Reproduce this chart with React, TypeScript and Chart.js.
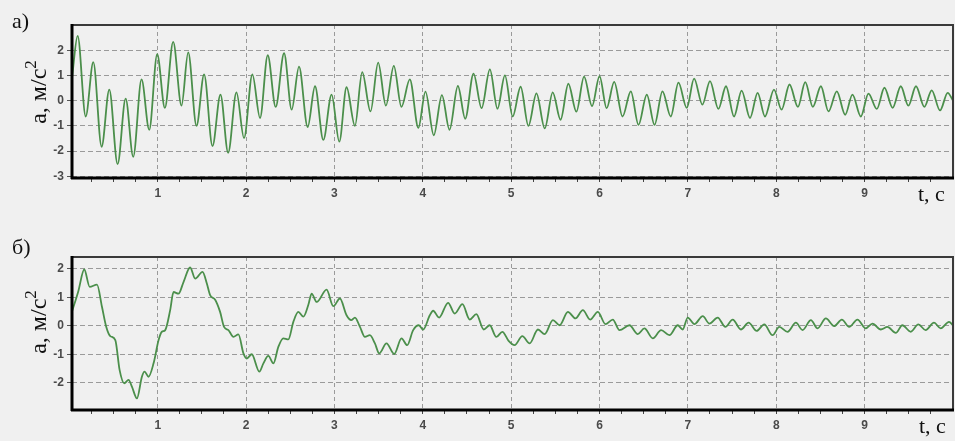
import React, { useEffect, useRef } from "react";
import { Chart, registerables } from "chart.js";

Chart.register(...registerables);

// ---- data ----
const topTimes = [
  0.03, 0.094, 0.185, 0.271, 0.365, 0.452, 0.546, 0.637, 0.723, 0.817, 0.904,
  0.994, 1.081, 1.175, 1.269, 1.345, 1.439, 1.525, 1.62, 1.71, 1.797, 1.891, 1.977,
  2.071, 2.158, 2.245, 2.335, 2.43, 2.516, 2.599, 2.697, 2.78, 2.874, 2.968,
  3.055, 3.137, 3.232, 3.314, 3.408, 3.495, 3.582, 3.672, 3.758, 3.853, 3.95,
  4.03, 4.124, 4.216, 4.302, 4.397, 4.48, 4.574, 4.665, 4.759, 4.845, 4.929,
  5.017, 5.107, 5.195, 5.286, 5.38, 5.47, 5.559, 5.647, 5.738, 5.825, 5.915, 6.0,
  6.08, 6.166, 6.26, 6.354, 6.441, 6.535, 6.622, 6.712, 6.806, 6.893, 6.987,
  7.07, 7.164, 7.25, 7.345, 7.431, 7.522, 7.608, 7.703, 7.789, 7.872, 7.974,
  8.06, 8.15, 8.245, 8.328, 8.414, 8.505, 8.591, 8.685, 8.78, 8.862, 8.957,
  9.043, 9.138, 9.224, 9.317, 9.409, 9.495, 9.581, 9.676, 9.759, 9.853, 9.94, 10.0,
];
const topValues = [
  0.9, 2.57, -0.63, 1.53, -1.83, 0.44, -2.52, 0.08, -2.23, 0.84, -1.16,
  1.84, -0.29, 2.33, -0.2, 1.91, -1.0, 1.04, -1.8, 0.24, -2.07, 0.33, -1.49,
  1.04, -0.69, 1.8, -0.25, 1.88, -0.36, 1.35, -1.05, 0.57, -1.56, 0.24,
  -1.63, 0.53, -1.0, 1.13, -0.43, 1.51, -0.2, 1.38, -0.25, 0.84, -1.08,
  0.36, -1.38, 0.22, -1.16, 0.58, -0.72, 1.07, -0.3, 1.24, -0.32, 1.0,
  -0.63, 0.55, -1.0, 0.29, -1.1, 0.33, -0.76, 0.67, -0.44, 0.95, -0.22, 0.97,
  -0.3, 0.74, -0.63, 0.37, -0.96, 0.24, -0.96, 0.37, -0.63, 0.71, -0.29,
  0.87, -0.16, 0.77, -0.33, 0.57, -0.63, 0.4, -0.69, 0.31, -0.63, 0.44,
  -0.36, 0.64, -0.25, 0.73, -0.25, 0.57, -0.43, 0.37, -0.56, 0.24, -0.63,
  0.28, -0.33, 0.51, -0.29, 0.57, -0.2, 0.57, -0.25, 0.41, -0.39, 0.31, 0.0,
];

const bottomTimes = [
  0.03, 0.1, 0.169, 0.23, 0.313, 0.369, 0.418, 0.463, 0.52, 0.569, 0.621, 0.67, 0.708, 0.765, 0.821, 0.851, 0.896, 0.953,
  1.01, 1.047, 1.085, 1.141, 1.179, 1.235, 1.292, 1.367, 1.424, 1.507, 1.556, 1.593, 1.65, 1.706, 1.751, 1.8, 1.857, 1.913, 1.97,
  2.008, 2.064, 2.15, 2.196, 2.252, 2.309, 2.365, 2.421, 2.478, 2.535, 2.591, 2.648, 2.704, 2.742, 2.799, 2.911, 2.987,
  3.062, 3.137, 3.19, 3.232, 3.289, 3.345, 3.401, 3.458, 3.507, 3.589, 3.676, 3.759, 3.823, 3.891, 3.955, 4.004,
  4.079, 4.117, 4.184, 4.286, 4.361, 4.448, 4.531, 4.606, 4.689, 4.757, 4.832, 4.9, 4.971, 5.039,
  5.126, 5.209, 5.303, 5.379, 5.472, 5.548, 5.642, 5.728, 5.811, 5.894, 5.981, 6.067, 6.15, 6.226,
  6.339, 6.433, 6.508, 6.603, 6.697, 6.791, 6.885, 6.941, 6.998, 7.073, 7.168, 7.243, 7.337, 7.424, 7.507, 7.6,
  7.687, 7.778, 7.864, 7.958, 8.034, 8.128, 8.222, 8.297, 8.392, 8.467, 8.561, 8.655, 8.742, 8.825,
  8.919, 9.013, 9.089, 9.183, 9.258, 9.352, 9.427, 9.522, 9.608, 9.69, 9.785, 9.86, 9.955, 10.0,
];
const bottomValues = [
  0.5, 1.2, 1.98, 1.37, 1.45, 0.67, -0.04, -0.36, -0.5, -1.56, -2.02, -1.9, -2.14, -2.55, -1.79, -1.61, -1.79, -1.32,
  -0.5, -0.21, -0.15, 0.55, 1.19, 1.13, 1.54, 2.05, 1.66, 1.9, 1.49, 1.08, 0.92, 0.49, -0.04, -0.15, -0.39, -0.3, -0.97,
  -1.15, -1.0, -1.61, -1.32, -1.06, -1.32, -0.74, -0.44, -0.48, 0.14, 0.49, 0.32, 0.73, 1.13, 0.84, 1.27, 0.69,
  0.96, 0.37, 0.2, 0.29, -0.04, -0.39, -0.33, -0.62, -0.97, -0.62, -0.99, -0.44, -0.68, -0.15, 0.02, -0.13,
  0.37, 0.53, 0.29, 0.81, 0.43, 0.76, 0.22, 0.41, -0.13, 0.02, -0.39, -0.21, -0.53, -0.68,
  -0.36, -0.62, -0.13, -0.29, 0.2, 0.02, 0.49, 0.26, 0.55, 0.22, 0.49, 0.06, 0.22, -0.15,
  0.02, -0.29, -0.09, -0.44, -0.15, -0.33, 0.02, -0.13, 0.29, 0.06, 0.34, 0.08, 0.29, -0.04, 0.22, -0.13,
  0.11, -0.18, 0.05, -0.33, -0.04, -0.21, 0.11, -0.15, 0.2, -0.09, 0.26, -0.01, 0.22, -0.04,
  0.22, -0.09, 0.08, -0.13, -0.04, -0.25, 0.02, -0.21, 0.05, -0.15, 0.11, -0.09, 0.14, 0.02,
];

const xTickLabels = [1, 2, 3, 4, 5, 6, 7, 8, 9];
const xMinorStep = 0.25;
const topYTicks = [-3, -2, -1, 0, 1, 2];
const bottomYTicks = [-2, -1, 0, 1, 2];

const LINE_COLOR = "#4b8f4b";
const GRID_COLOR = "#9a9a9a";
const BG = "#f0f0f0";

const near = (a: number, b: number) => Math.abs(a - b) < 1e-6;

const framePlugin = {
  id: "frame",
  afterDatasetsDraw(chart: any) {
    const { ctx, chartArea: a } = chart;
    ctx.save();
    const line = (x1: number, y1: number, x2: number, y2: number) => {
      ctx.beginPath();
      ctx.moveTo(x1, y1);
      ctx.lineTo(x2, y2);
      ctx.stroke();
    };
    ctx.strokeStyle = "#3a3a3a";
    ctx.lineWidth = 2;
    line(a.left, a.top, a.right + 1, a.top);
    line(a.right, a.top, a.right, a.bottom);
    ctx.strokeStyle = "#000";
    ctx.lineWidth = 3;
    line(a.left - 1, a.bottom, a.right + 1, a.bottom);
    line(a.left, a.top - 1, a.left, a.bottom + 1);
    ctx.restore();
  },
};

type PanelProps = {
  times: number[];
  values: number[];
  yMin: number;
  yMax: number;
  yTicks: number[];
  top: number;
  height: number;
  padTop: number;
  xAxisHeight: number;
};

function Panel({ times, values, yMin, yMax, yTicks, top, height, padTop, xAxisHeight }: PanelProps) {
  const ref = useRef<HTMLCanvasElement | null>(null);
  useEffect(() => {
    if (!ref.current) return;
    const data = times.map((t, i) => ({ x: t, y: values[i] }));
    const tickFont = { family: '"Liberation Sans", Arial, sans-serif', size: 12, weight: "bold" as const };
    const chart = new Chart(ref.current, {
      type: "line",
      data: {
        datasets: [
          {
            data,
            borderColor: LINE_COLOR,
            borderWidth: 1.8,
            pointRadius: 0,
            fill: false,
            cubicInterpolationMode: "monotone",
          },
        ],
      },
      options: {
        responsive: false,
        animation: false,
        events: [],
        layout: { padding: { left: 0, right: 2, top: padTop, bottom: 0 } },
        plugins: { legend: { display: false }, tooltip: { enabled: false }, title: { display: false } },
        scales: {
          x: {
            type: "linear",
            min: 0.03,
            max: 10,
            afterFit: (scale: any) => {
              scale.height = xAxisHeight;
            },
            afterBuildTicks: (scale: any) => {
              const ticks: { value: number }[] = [];
              for (let k = 1; k * xMinorStep < 10; k++) ticks.push({ value: k * xMinorStep });
              scale.ticks = ticks;
            },
            ticks: {
              autoSkip: false,
              maxRotation: 0,
              padding: 4,
              color: "#4a4a4a",
              font: tickFont,
              callback: (v: any) => {
                const n = Number(v);
                const hit = xTickLabels.find((k) => near(k, n));
                return hit !== undefined ? String(hit) : "";
              },
            },
            grid: {
              drawTicks: true,
              tickLength: 4,
              lineWidth: 1,
              color: (c: any) => {
                const v = c.tick ? c.tick.value : NaN;
                return xTickLabels.some((k) => near(k, v)) ? GRID_COLOR : "rgba(0,0,0,0)";
              },
              tickColor: "#444",
            },
            border: { display: false, dash: [4, 3] },
          },
          y: {
            type: "linear",
            min: yMin,
            max: yMax,
            afterFit: (scale: any) => {
              scale.width = 72;
            },
            afterBuildTicks: (scale: any) => {
              scale.ticks = yTicks.map((v) => ({ value: v }));
            },
            ticks: {
              padding: 3,
              color: "#4a4a4a",
              font: tickFont,
              callback: (v: any) => String(v),
            },
            grid: {
              drawTicks: true,
              tickLength: 5,
              lineWidth: 1,
              color: GRID_COLOR,
              tickColor: "#555",
            },
            border: { display: false, dash: [5, 3] },
          },
        },
      },
      plugins: [framePlugin],
    } as any);
    return () => chart.destroy();
  }, []);
  return (
    <canvas
      ref={ref}
      width={955}
      height={height}
      style={{ position: "absolute", left: 0, top, width: 955, height }}
    />
  );
}

const serif = '"Liberation Serif", "Times New Roman", serif';

function YLabel({ cx, cy }: { cx: number; cy: number }) {
  return (
    <div
      style={{
        position: "absolute",
        left: cx,
        top: cy,
        transform: "translate(-50%, -50%) rotate(-90deg)",
        fontFamily: serif,
        fontSize: 24,
        color: "#111",
        whiteSpace: "nowrap",
        lineHeight: "24px",
      }}
    >
      а, м/с<span style={{ fontSize: 17, position: "relative", top: -10 }}>2</span>
    </div>
  );
}

function Label({ x, y, text }: { x: number; y: number; text: string }) {
  return (
    <div
      style={{
        position: "absolute",
        left: x,
        top: y,
        fontFamily: serif,
        fontSize: 22,
        lineHeight: "22px",
        color: "#111",
        whiteSpace: "nowrap",
      }}
    >
      {text}
    </div>
  );
}

export default function App() {
  return (
    <div
      style={{
        position: "fixed",
        left: 0,
        top: 0,
        width: 955,
        height: 441,
        background: BG,
        overflow: "hidden",
      }}
    >
      <Panel
        times={topTimes}
        values={topValues}
        yMin={-3.07}
        yMax={3.0}
        yTicks={topYTicks}
        top={0}
        height={220}
        padTop={25}
        xAxisHeight={42}
      />
      <Panel
        times={bottomTimes}
        values={bottomValues}
        yMin={-2.96}
        yMax={2.42}
        yTicks={bottomYTicks}
        top={220}
        height={221}
        padTop={37}
        xAxisHeight={31}
      />
      <Label x={12} y={10} text="а)" />
      <Label x={12} y={236} text="б)" />
      <Label x={918} y={183} text="t, с" />
      <Label x={919} y={415} text="t, с" />
      <YLabel cx={39} cy={92} />
      <YLabel cx={39} cy={322} />
    </div>
  );
}
